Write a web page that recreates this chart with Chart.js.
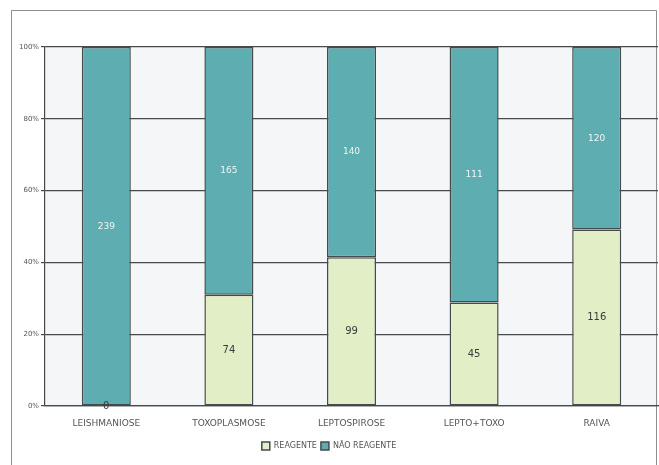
<!DOCTYPE html>
<html>
<head>
<meta charset="utf-8">
<script src="https://cdn.jsdelivr.net/npm/chart.js@4.4.0/dist/chart.umd.min.js"></script>
<style>
  html, body { margin: 0; padding: 0; background: #fff; }
  #wrap { width: 659px; height: 465px; }
</style>
</head>
<body>
<div id="wrap"><canvas id="myChart" width="659" height="465"></canvas></div>
<script>
const categories = ['LEISHMANIOSE', 'TOXOPLASMOSE', 'LEPTOSPIROSE', 'LEPTO+TOXO', 'RAIVA'];
const reagente = [0, 74, 99, 45, 116];
const naoReagente = [239, 165, 140, 111, 120];
const yTicks = ['0%', '20%', '40%', '60%', '80%', '100%'];

// percentagens de cada grupo (gráfico 100% empilhado)
const totals = reagente.map((v, i) => v + naoReagente[i]);
const pctReag = reagente.map((v, i) => v / totals[i] * 100);
const pctNao = naoReagente.map((v, i) => v / totals[i] * 100);
const counts = [reagente, naoReagente];

// moldura + fundo
const framePlugin = {
  id: 'frame',
  beforeDraw(chart) {
    const c = chart.ctx;
    c.save();
    c.fillStyle = '#fff';
    c.fillRect(0, 0, chart.width, chart.height);
    const a = chart.chartArea;
    c.fillStyle = '#f4f6f7';
    c.fillRect(a.left, a.top, a.right - a.left, a.bottom - a.top);
    c.strokeStyle = '#8a8f92';
    c.lineWidth = 1;
    c.beginPath();
    c.moveTo(11.5, 470);
    c.lineTo(11.5, 10.5);
    c.lineTo(656.5, 10.5);
    c.lineTo(656.5, 470);
    c.stroke();
    c.restore();
  }
};

// rótulos de valor dentro das barras
const labelPlugin = {
  id: 'valueLabels',
  afterDatasetsDraw(chart) {
    const c = chart.ctx;
    c.save();
    c.textAlign = 'center';
    c.textBaseline = 'middle';
    chart.data.datasets.forEach((ds, di) => {
      chart.getDatasetMeta(di).data.forEach((bar, i) => {
        const y = (bar.y + bar.base) / 2;
        if (di === 1) {
          c.font = '9px "DejaVu Sans"';
          c.fillStyle = '#eef5f5';
        } else {
          c.font = '10px "DejaVu Sans"';
          c.fillStyle = '#3a3a3a';
        }
        c.fillText(String(counts[di][i]), bar.x, y);
      });
    });
    c.restore();
  }
};

new Chart(document.getElementById('myChart'), {
  type: 'bar',
  data: {
    labels: categories,
    datasets: [{
      label: 'REAGENTE',
      data: pctReag,
      backgroundColor: '#e2efc6',
      borderColor: '#454b4d',
      borderWidth: 1.5,
      borderSkipped: false,
      categoryPercentage: 1,
      barPercentage: 0.4
    }, {
      label: 'NÃO REAGENTE',
      data: pctNao,
      backgroundColor: '#5eadb0',
      borderColor: '#454b4d',
      borderWidth: 1.5,
      borderSkipped: false,
      categoryPercentage: 1,
      barPercentage: 0.4
    }]
  },
  options: {
    responsive: false,
    animation: false,
    layout: { padding: { left: 0, right: 1, top: 47, bottom: 5 } },
    plugins: {
      tooltip: { enabled: false },
      legend: {
        position: 'bottom',
        labels: {
          boxWidth: 8,
          boxHeight: 8,
          padding: 4,
          color: '#555',
          font: { size: 8, family: '"DejaVu Sans"' }
        }
      }
    },
    scales: {
      x: {
        stacked: true,
        afterFit: s => { s.height = 32; },
        grid: { display: false, drawTicks: true, tickLength: 4 },
        border: { color: '#454b4d', width: 1.2 },
        ticks: { color: '#555', font: { size: 9, family: '"DejaVu Sans"' }, padding: 8 }
      },
      y: {
        stacked: true,
        min: 0,
        max: 100,
        afterFit: s => { s.width = 45; },
        grid: { color: '#454b4d', lineWidth: 1.2, tickLength: 4 },
        border: { color: '#454b4d', width: 1.2 },
        ticks: {
          stepSize: 20,
          color: '#555',
          font: { size: 7, family: '"DejaVu Sans"' },
          padding: 2,
          callback: (v) => yTicks[v / 20]
        }
      }
    }
  },
  plugins: [framePlugin, labelPlugin]
});
</script>
</body>
</html>
